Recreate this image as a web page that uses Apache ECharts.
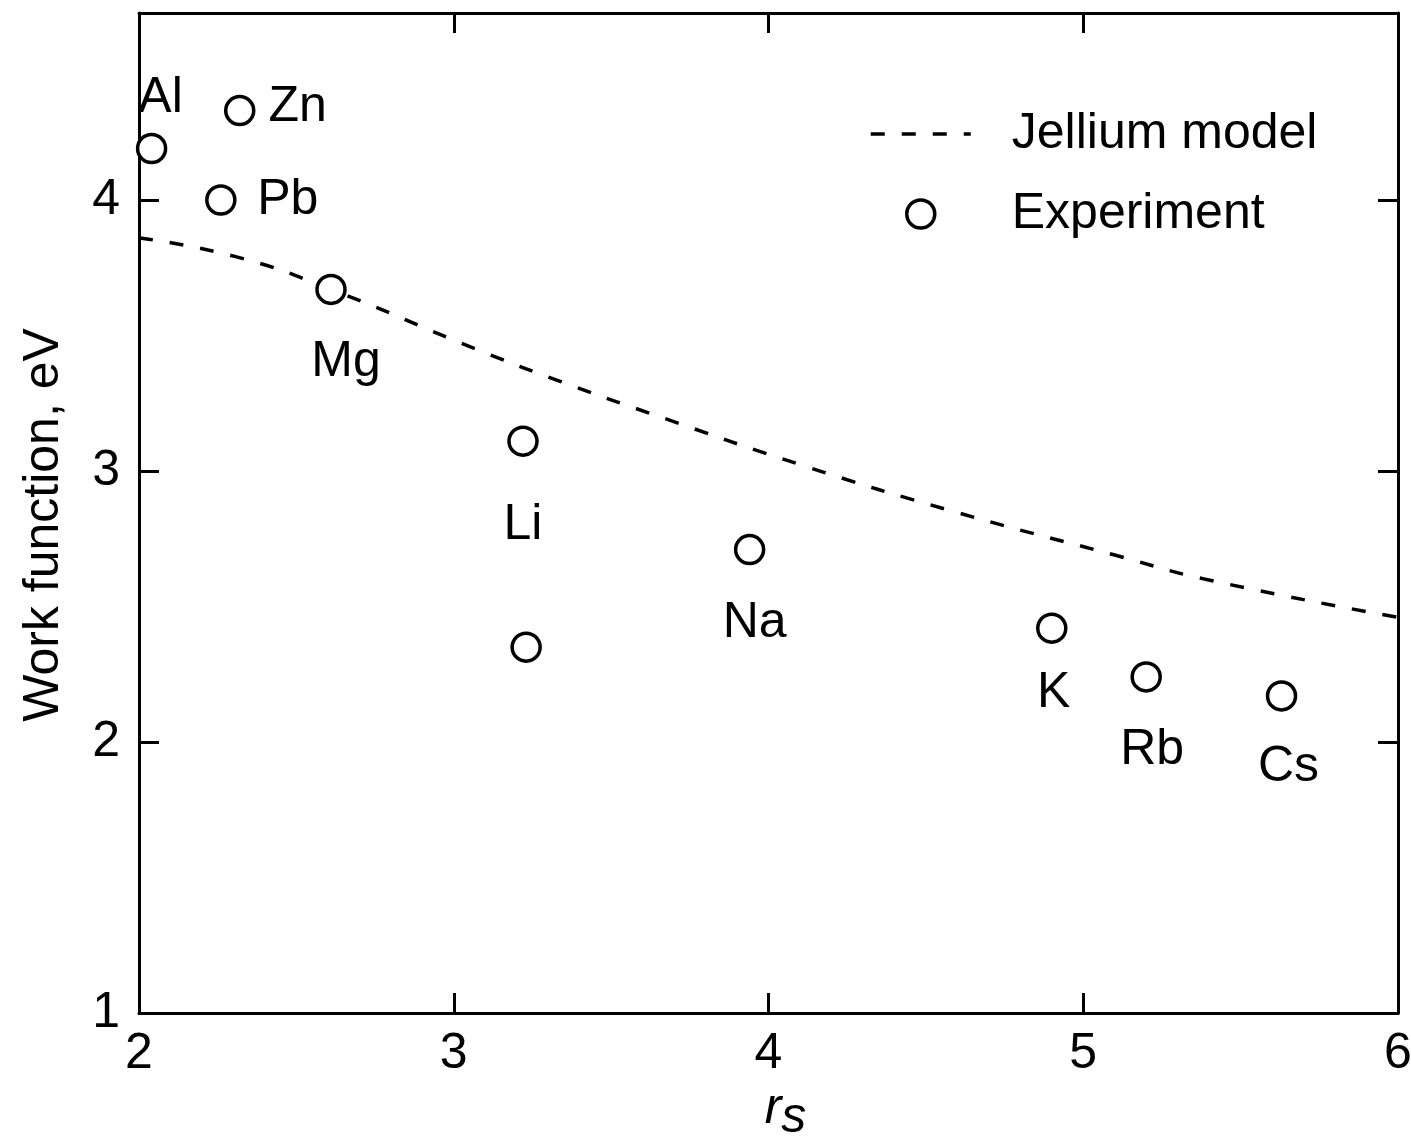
<!DOCTYPE html>
<html><head><meta charset="utf-8">
<script src="https://cdn.jsdelivr.net/npm/echarts@6/dist/echarts.min.js"></script>
<style>html,body{margin:0;padding:0;background:#fff}#c{width:1411px;height:1138px}</style>
</head><body><div id="c"></div>
<script>
// ---- data ----
const elementLabels = ['Al','Zn','Pb','Mg','Li','','Na','K','Rb','Cs'];
const expRs   = [2.04, 2.32, 2.26, 2.61, 3.22, 3.23, 3.94, 4.90, 5.20, 5.63];
const expWork = [4.19, 4.33, 4.00, 3.67, 3.11, 2.35, 2.71, 2.42, 2.24, 2.17];
const jelliumRs   = [2.00, 2.31, 2.61, 3.07, 3.34, 3.63, 4.11, 4.59, 5.10, 5.39, 6.00];
const jelliumWork = [3.86, 3.79, 3.67, 3.45, 3.33, 3.21, 3.02, 2.85, 2.69, 2.60, 2.46];
const xTicks = [2, 3, 4, 5, 6];
const yTicks = [1, 2, 3, 4];
const yTop = 4.69;
const seriesNames = ['Jellium model', 'Experiment'];

// ---- styling ----
const FONT = "'Liberation Sans Narrow','Arial Narrow','Liberation Sans',Arial,sans-serif";
const FS = 50;
const labelOffsets = {
  Al: [9, -50], Zn: [58, -3], Pb: [67, 0], Mg: [15, 73], Li: [0, 84],
  Na: [5, 74], K: [2, 65], Rb: [6, 73], Cs: [7, 71]
};

const chart = echarts.init(document.getElementById('c'), null, {renderer: 'canvas'});

const axisCommon = {
  type: 'value',
  axisLine: {show: true, onZero: false, lineStyle: {color: '#000', width: 3}},
  axisTick: {show: true, inside: true, length: 20, lineStyle: {color: '#000', width: 3}},
  splitLine: {show: false}
};
const xMin = xTicks[0], xMax = xTicks[xTicks.length - 1], xInt = xTicks[1] - xTicks[0];
const yMin = yTicks[0], yInt = yTicks[1] - yTicks[0];

const expData = expRs.map((x, i) => {
  const name = elementLabels[i];
  const item = {value: [x, expWork[i]], name: name};
  if (name) {
    item.label = {show: true, position: 'inside', offset: labelOffsets[name], formatter: name};
  }
  return item;
});

const ringStyle = {color: '#fff', borderColor: '#000', borderWidth: 3.5, opacity: 1};

chart.setOption({
  animation: false,
  backgroundColor: '#fff',
  textStyle: {fontFamily: FONT, color: '#000'},
  grid: {left: 139, right: 13, top: 13, bottom: 125, containLabel: false, outerBoundsMode: 'none'},
  xAxis: [
    Object.assign({}, axisCommon, {
      position: 'bottom', min: xMin, max: xMax, interval: xInt,
      axisLabel: {show: true, color: '#000', fontFamily: FONT, fontSize: FS, margin: 16},
      name: '{r|r}{s|s}', nameLocation: 'middle', nameGap: 56,
      nameTextStyle: {
        padding: [0, 0, 0, 34],
        rich: {
          r: {fontFamily: FONT, fontSize: FS, fontStyle: 'italic', color: '#000'},
          s: {fontFamily: FONT, fontSize: FS, fontStyle: 'italic', color: '#000', padding: [18, 0, 0, 0]}
        }
      }
    }),
    Object.assign({}, axisCommon, {
      position: 'top', min: xMin, max: xMax, interval: xInt,
      axisLabel: {show: false}
    })
  ],
  yAxis: [
    Object.assign({}, axisCommon, {
      position: 'left', min: yMin, max: yTop, interval: yInt,
      axisLabel: {show: true, color: '#000', fontFamily: FONT, fontSize: FS, margin: 19, showMaxLabel: false},
      name: 'Work function, eV', nameLocation: 'middle', nameGap: 70,
      nameTextStyle: {fontFamily: FONT, fontSize: FS, color: '#000', padding: [0, 24, 0, 0]}
    }),
    Object.assign({}, axisCommon, {
      position: 'right', min: yMin, max: yTop, interval: yInt,
      axisLabel: {show: false}
    })
  ],
  legend: {
    orient: 'vertical', left: 864, top: 104,
    itemWidth: 100, itemHeight: 28, itemGap: 30,
    data: [
      {name: seriesNames[0], itemStyle: {color: 'rgba(0,0,0,0)', borderWidth: 0, opacity: 0},
       lineStyle: {color: '#000', width: 3.5, type: [14, 17]}},
      {name: seriesNames[1], icon: 'circle', itemStyle: ringStyle}
    ],
    textStyle: {fontFamily: FONT, fontSize: FS, color: '#000', padding: [0, 0, 0, 36]}
  },
  series: [
    {
      name: seriesNames[0], type: 'line', smooth: true, symbol: 'none', showSymbol: false, z: 2,
      data: jelliumRs.map((x, i) => [x, jelliumWork[i]]),
      lineStyle: {color: '#000', width: 3.5, type: [14, 17]},
      itemStyle: {color: '#000'}
    },
    {
      name: seriesNames[1], type: 'scatter', symbol: 'circle', symbolSize: 28, z: 3,
      itemStyle: ringStyle,
      label: {show: false, color: '#000', fontFamily: FONT, fontSize: FS},
      data: expData
    }
  ]
});
</script>
</body></html>
